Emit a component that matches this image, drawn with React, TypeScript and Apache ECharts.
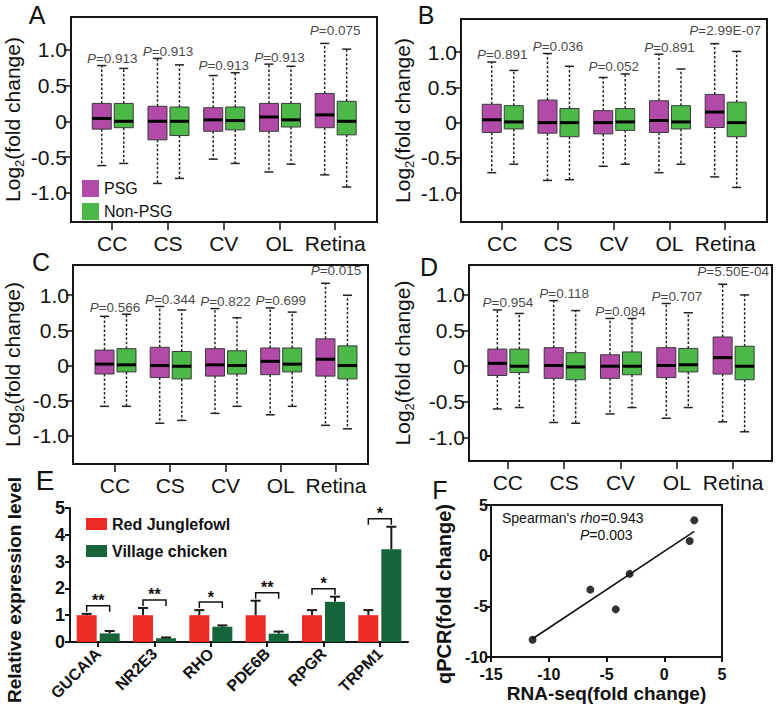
import React, { useEffect, useRef } from 'react';
import * as echarts from 'echarts';

const FONT = '"Liberation Sans", Arial, sans-serif';

// ---------- Panels A-D: box plots ----------
const tissues = ['CC', 'CS', 'CV', 'OL', 'Retina'];
// each row: [min, Q1, median, Q3, max]
const psgA = [
  [-0.62, -0.11, 0.04, 0.25, 0.78],
  [-0.87, -0.26, 0.0, 0.21, 0.88],
  [-0.53, -0.14, 0.02, 0.19, 0.64],
  [-0.71, -0.14, 0.06, 0.25, 0.8],
  [-0.75, -0.09, 0.09, 0.39, 1.09],
];
const nonA = [
  [-0.59, -0.09, 0.0, 0.25, 0.74],
  [-0.8, -0.2, 0.0, 0.2, 0.79],
  [-0.59, -0.12, 0.01, 0.2, 0.68],
  [-0.6, -0.08, 0.02, 0.25, 0.77],
  [-0.92, -0.19, 0.0, 0.28, 1.01],
];
const pA = ['0.913', '0.913', '0.913', '0.913', '0.075'];

const psgB = [
  [-0.71, -0.14, 0.04, 0.26, 0.86],
  [-0.82, -0.15, 0.0, 0.32, 0.98],
  [-0.62, -0.16, 0.0, 0.17, 0.64],
  [-0.71, -0.14, 0.03, 0.31, 0.97],
  [-0.77, -0.07, 0.15, 0.4, 1.12],
];
const nonB = [
  [-0.59, -0.09, 0.01, 0.24, 0.74],
  [-0.81, -0.2, 0.0, 0.2, 0.8],
  [-0.59, -0.11, 0.01, 0.2, 0.69],
  [-0.59, -0.09, 0.01, 0.24, 0.76],
  [-0.92, -0.2, 0.0, 0.29, 1.01],
];
const pB = ['0.891', '0.036', '0.052', '0.891', '2.99E-07'];

const psgC = [
  [-0.58, -0.12, 0.02, 0.22, 0.7],
  [-0.82, -0.17, 0.0, 0.26, 0.84],
  [-0.68, -0.15, 0.01, 0.24, 0.81],
  [-0.7, -0.13, 0.06, 0.25, 0.82],
  [-0.85, -0.15, 0.09, 0.38, 1.17],
];
const nonC = [
  [-0.58, -0.09, 0.01, 0.24, 0.73],
  [-0.78, -0.19, -0.01, 0.2, 0.79],
  [-0.58, -0.12, 0.0, 0.21, 0.68],
  [-0.58, -0.09, 0.02, 0.25, 0.76],
  [-0.9, -0.19, 0.0, 0.28, 1.0],
];
const pC = ['0.566', '0.344', '0.822', '0.699', '0.015'];

const psgD = [
  [-0.6, -0.13, 0.04, 0.24, 0.79],
  [-0.79, -0.17, 0.01, 0.26, 0.92],
  [-0.67, -0.17, 0.0, 0.16, 0.67],
  [-0.73, -0.16, 0.01, 0.26, 0.88],
  [-0.78, -0.11, 0.12, 0.41, 1.15],
];
const nonD = [
  [-0.58, -0.09, 0.0, 0.24, 0.74],
  [-0.8, -0.19, -0.01, 0.19, 0.78],
  [-0.58, -0.12, 0.0, 0.2, 0.67],
  [-0.58, -0.08, 0.02, 0.25, 0.75],
  [-0.92, -0.19, 0.0, 0.28, 1.0],
];
const pD = ['0.954', '0.118', '0.084', '0.707', '5.50E-04'];

const yTicksBox = [-1, -0.5, 0, 0.5, 1];

// ---------- Panel E: qPCR bars ----------
const genes = ['GUCAIA', 'NR2E3', 'RHO', 'PDE6B', 'RPGR', 'TRPM1'];
const rjfMean = [1, 1, 1, 1, 1, 1];
const rjfErr = [0.05, 0.27, 0.19, 0.54, 0.19, 0.19];
const vcMean = [0.32, 0.14, 0.57, 0.31, 1.5, 3.46];
const vcErr = [0.09, 0.03, 0.05, 0.08, 0.19, 0.84];
const sigStars = ['**', '**', '*', '**', '*', '*'];

// ---------- Panel F: correlation ----------
const rnaSeq = [2.6, 2.2, -3.0, -6.4, -4.2, -11.4];
const qpcr = [3.5, 1.45, -1.8, -3.35, -5.3, -8.3];
const fitX = [-11.4, 2.6];
const fitY = [-8.2, 2.4];

const PSG_COLOR = '#b24ba7';
const NON_COLOR = '#4cb848';
const RED = '#ee2a24';
const DKGREEN = '#16653a';
const INK = '#151515';

const boxPanels = [
  { psg: psgA, non: nonA, p: pA, left: 71, top: 17, width: 306, height: 205, xr: [0.26, 5.75], yr: [-1.41, 1.46], nameGap: 47 },
  { psg: psgB, non: nonB, p: pB, left: 461, top: 19, width: 306, height: 203, xr: [0.26, 5.75], yr: [-1.41, 1.47], nameGap: 47 },
  { psg: psgC, non: nonC, p: pC, left: 73, top: 265, width: 295, height: 199, xr: [0.24, 5.58], yr: [-1.4, 1.43], nameGap: 49 },
  { psg: psgD, non: nonD, p: pD, left: 469, top: 265, width: 303, height: 196, xr: [0.31, 5.69], yr: [-1.33, 1.42], nameGap: 55 },
];

function boxRender(offset: number, fill: string) {
  return (params: any, api: any) => {
    const x = api.value(0);
    const pts = [1, 2, 3, 4, 5].map((i) => api.coord([x, api.value(i)]));
    const [pMin, pQ1, pMed, pQ3, pMax] = pts;
    const cx = pMin[0] + offset;
    const hw = 9.5;
    const cap = 4.5;
    const dash = { stroke: '#222', lineWidth: 1.5, lineDash: [2.5, 2] };
    const solid = { stroke: '#222', lineWidth: 1.5 };
    return {
      type: 'group',
      children: [
        { type: 'line', shape: { x1: cx, y1: pQ3[1], x2: cx, y2: pMax[1] }, style: dash },
        { type: 'line', shape: { x1: cx, y1: pQ1[1], x2: cx, y2: pMin[1] }, style: dash },
        { type: 'line', shape: { x1: cx - cap, y1: pMax[1], x2: cx + cap, y2: pMax[1] }, style: solid },
        { type: 'line', shape: { x1: cx - cap, y1: pMin[1], x2: cx + cap, y2: pMin[1] }, style: solid },
        {
          type: 'rect',
          shape: { x: cx - hw, y: pQ3[1], width: hw * 2, height: pQ1[1] - pQ3[1] },
          style: { fill, stroke: '#3a3a3a', lineWidth: 1 },
        },
        { type: 'line', shape: { x1: cx - hw, y1: pMed[1], x2: cx + hw, y2: pMed[1] }, style: { stroke: '#000', lineWidth: 3 } },
      ],
    };
  };
}

function errRender(offset: number) {
  return (params: any, api: any) => {
    const c = api.value(0);
    const v = api.value(1);
    const e = api.value(2);
    const p0 = api.coord([c, v]);
    const p1 = api.coord([c, v + e]);
    const cx = p0[0] + offset;
    const st = { stroke: '#1a1a1a', lineWidth: 2 };
    return {
      type: 'group',
      children: [
        { type: 'line', shape: { x1: cx, y1: p0[1], x2: cx, y2: p1[1] }, style: st },
        { type: 'line', shape: { x1: cx - 5, y1: p1[1], x2: cx + 5, y2: p1[1] }, style: st },
      ],
    };
  };
}

function bracketRender(params: any, api: any) {
  const c = api.value(0);
  const y = api.value(1);
  const p = api.coord([c, y]);
  const l = p[0] - 11.5;
  const r = p[0] + 11.5;
  const stars = sigStars[params.dataIndex];
  return {
    type: 'group',
    children: [
      {
        type: 'polyline',
        shape: { points: [[l, p[1] + 6], [l, p[1]], [r, p[1]], [r, p[1] + 6]] },
        style: { stroke: '#111', lineWidth: 1.5, fill: 'none' },
      },
      {
        type: 'text',
        x: p[0],
        y: p[1] + 3,
        style: {
          text: stars,
          fill: '#111',
          fontSize: 16,
          fontWeight: 'bold',
          fontFamily: FONT,
          align: 'center',
          textAlign: 'center',
          verticalAlign: 'bottom',
          textVerticalAlign: 'bottom',
        },
      },
    ],
  };
}

function buildOption() {
  const grid: any[] = [];
  const xAxis: any[] = [];
  const yAxis: any[] = [];
  const series: any[] = [];

  boxPanels.forEach((bp, k) => {
    grid.push({
      left: bp.left, top: bp.top, width: bp.width, height: bp.height,
      show: true, borderColor: INK, borderWidth: 2, backgroundColor: 'transparent',
    });
    xAxis.push({
      type: 'value', gridIndex: k, min: bp.xr[0], max: bp.xr[1],
      axisLine: { show: true, onZero: false, lineStyle: { color: INK, width: 2 } },
      axisTick: { show: true, length: 8, customValues: [1, 2, 3, 4, 5], lineStyle: { color: INK, width: 1.5 } },
      axisLabel: {
        customValues: [1, 2, 3, 4, 5],
        formatter: (v: number) => tissues[Math.round(v) - 1] || '',
        fontSize: 21, color: '#111', fontFamily: FONT, margin: 11,
      },
      splitLine: { show: false },
    });
    yAxis.push({
      type: 'value', gridIndex: k, min: bp.yr[0], max: bp.yr[1],
      axisLine: { show: true, onZero: false, lineStyle: { color: INK, width: 2 } },
      axisTick: { show: true, length: 7, customValues: yTicksBox, lineStyle: { color: INK, width: 1.5 } },
      axisLabel: {
        customValues: yTicksBox,
        formatter: (v: number) => (Math.abs(v) < 1e-9 ? '0' : v.toFixed(1)),
        fontSize: 21, color: '#111', fontFamily: FONT, margin: 4,
      },
      splitLine: { show: false },
      name: '{n|Log}{s|2}{n|(fold change)}',
      nameLocation: 'middle',
      nameGap: bp.nameGap,
      nameTextStyle: {
        fontFamily: FONT,
        rich: {
          n: { fontSize: 21, color: '#111', fontFamily: FONT, lineHeight: 24 },
          s: { fontSize: 13, color: '#111', fontFamily: FONT, lineHeight: 13, verticalAlign: 'bottom', padding: [0, 0, -2, 0] },
        },
      },
    });
    series.push({
      type: 'custom', name: 'PSG', xAxisIndex: k, yAxisIndex: k,
      itemStyle: { color: PSG_COLOR },
      renderItem: boxRender(-10.5, PSG_COLOR),
      encode: { x: 0, y: [1, 2, 3, 4, 5] },
      data: bp.psg.map((r, i) => [i + 1, ...r]),
      clip: false, silent: true,
    });
    series.push({
      type: 'custom', name: 'Non-PSG', xAxisIndex: k, yAxisIndex: k,
      itemStyle: { color: NON_COLOR },
      renderItem: boxRender(11.5, NON_COLOR),
      encode: { x: 0, y: [1, 2, 3, 4, 5] },
      data: bp.non.map((r, i) => [i + 1, ...r]),
      clip: false, silent: true,
    });
    series.push({
      type: 'scatter', xAxisIndex: k, yAxisIndex: k, symbolSize: 0, silent: true,
      data: bp.p.map((p, i) => ({
        value: [i + 1, Math.max(bp.psg[i][4], bp.non[i][4]), p],
        label: { distance: i === 4 ? 8 : 2 },
      })),
      label: {
        show: true, position: 'top', distance: 2,
        lineHeight: 10,
        formatter: (prm: any) => `{i|P}{n|=${prm.value[2]}}`,
        rich: {
          i: { fontStyle: 'italic', fontSize: 13.5, color: '#111', fontFamily: FONT, lineHeight: 10 },
          n: { fontSize: 13.5, color: '#111', fontFamily: FONT, lineHeight: 10 },
        },
      },
    });
  });

  // Panel E
  const eIdx = 4;
  grid.push({ left: 70, top: 508, width: 338, height: 134 });
  xAxis.push({
    type: 'category', gridIndex: eIdx, data: genes,
    axisLine: { show: true, lineStyle: { color: INK, width: 2 } },
    axisTick: { show: true, alignWithLabel: true, length: 5, lineStyle: { color: INK, width: 2 } },
    axisLabel: { rotate: 45, interval: 0, fontSize: 16, fontWeight: 'bold', color: '#111', fontFamily: FONT, margin: 9 },
  });
  yAxis.push({
    type: 'value', gridIndex: eIdx, min: 0, max: 5, interval: 1,
    axisLine: { show: true, lineStyle: { color: INK, width: 2 } },
    axisTick: { show: true, length: 5, lineStyle: { color: INK, width: 2 } },
    axisLabel: { fontSize: 18, fontWeight: 'bold', color: '#111', fontFamily: FONT, margin: 5 },
    splitLine: { show: false },
  });
  series.push({
    type: 'bar', name: 'Red Junglefowl', xAxisIndex: eIdx, yAxisIndex: eIdx,
    data: rjfMean, barWidth: 20, barGap: '15%', itemStyle: { color: RED }, silent: true,
  });
  series.push({
    type: 'bar', name: 'Village chicken', xAxisIndex: eIdx, yAxisIndex: eIdx,
    data: vcMean, barWidth: 20, barGap: '15%', itemStyle: { color: DKGREEN }, silent: true,
  });
  series.push({
    type: 'custom', xAxisIndex: eIdx, yAxisIndex: eIdx, renderItem: errRender(-11.5),
    data: rjfMean.map((v, i) => [i, v, rjfErr[i]]), encode: { x: 0, y: 1 }, z: 3, clip: false, silent: true,
  });
  series.push({
    type: 'custom', xAxisIndex: eIdx, yAxisIndex: eIdx, renderItem: errRender(11.5),
    data: vcMean.map((v, i) => [i, v, vcErr[i]]), encode: { x: 0, y: 1 }, z: 3, clip: false, silent: true,
  });
  series.push({
    type: 'custom', xAxisIndex: eIdx, yAxisIndex: eIdx, renderItem: bracketRender,
    data: genes.map((g, i) => [i, Math.max(rjfMean[i] + rjfErr[i], vcMean[i] + vcErr[i]) + 0.3]),
    encode: { x: 0, y: 1 }, z: 3, clip: false, silent: true,
  });

  // Panel F
  const fIdx = 5;
  grid.push({ left: 491, top: 505, width: 231, height: 152, show: true, borderColor: INK, borderWidth: 2, backgroundColor: 'transparent' });
  xAxis.push({
    type: 'value', gridIndex: fIdx, min: -15, max: 5, interval: 5,
    axisLine: { show: true, onZero: false, lineStyle: { color: INK, width: 2 } },
    axisTick: { show: true, length: 5, lineStyle: { color: INK, width: 2 } },
    axisLabel: { fontSize: 16, fontWeight: 'bold', color: '#111', fontFamily: FONT, margin: 9 },
    splitLine: { show: false },
    name: 'RNA-seq(fold change)', nameLocation: 'middle', nameGap: 27,
    nameTextStyle: { fontSize: 19, fontWeight: 'bold', color: '#111', fontFamily: FONT },
  });
  yAxis.push({
    type: 'value', gridIndex: fIdx, min: -10, max: 5, interval: 5,
    axisLine: { show: true, onZero: false, lineStyle: { color: INK, width: 2 } },
    axisTick: { show: true, length: 5, lineStyle: { color: INK, width: 2 } },
    axisLabel: { fontSize: 16, fontWeight: 'bold', color: '#111', fontFamily: FONT, margin: 3 },
    splitLine: { show: false },
  });
  series.push({
    type: 'line', xAxisIndex: fIdx, yAxisIndex: fIdx, symbol: 'none', silent: true,
    data: fitX.map((x, i) => [x, fitY[i]]), lineStyle: { color: '#111', width: 1.6 },
  });
  series.push({
    type: 'scatter', xAxisIndex: fIdx, yAxisIndex: fIdx, symbolSize: 8, silent: true,
    data: rnaSeq.map((x, i) => [x, qpcr[i]]), itemStyle: { color: '#000' },
  });

  const letter = (t: string, x: number, y: number, size = 25) => ({
    type: 'text', x, y,
    style: { text: t, fontSize: size, fontFamily: FONT, fill: '#111', align: 'center', verticalAlign: 'middle' },
  });
  const rotName = (t: string, x: number, y: number, size: number) => ({
    type: 'text', x, y, rotation: Math.PI / 2,
    style: { text: t, fontSize: size, fontWeight: 'bold', fontFamily: FONT, fill: '#111', align: 'center', verticalAlign: 'middle' },
  });

  return {
    animation: false,
    backgroundColor: '#fff',
    textStyle: { fontFamily: FONT },
    grid, xAxis, yAxis, series,
    legend: [
      {
        data: ['PSG', 'Non-PSG'], left: 77, top: 175, orient: 'vertical', icon: 'rect',
        itemWidth: 17, itemHeight: 17, itemGap: 6, selectedMode: false,
        textStyle: { fontSize: 16, color: '#111', fontFamily: FONT },
      },
      {
        data: ['Red Junglefowl', 'Village chicken'], left: 81, top: 511, orient: 'vertical', icon: 'rect',
        itemWidth: 21, itemHeight: 12, itemGap: 11, selectedMode: false,
        textStyle: { fontSize: 16, fontWeight: 'bold', color: '#111', fontFamily: FONT },
      },
    ],
    graphic: [
      letter('A', 37, 15),
      letter('B', 426, 15),
      letter('C', 41, 262),
      letter('D', 429, 267),
      letter('E', 45, 480, 28),
      letter('F', 440, 490),
      rotName('Relative expression level', 14, 590, 19),
      rotName('qPCR(fold change)', 444, 594, 20),
      {
        type: 'text', x: 502, y: 518,
        style: {
          text: "{n|Spearman's }{i|rho}{n|=0.943}",
          verticalAlign: 'middle',
          rich: {
            n: { fontSize: 14, fontFamily: FONT, fill: '#111', color: '#111' },
            i: { fontSize: 14, fontFamily: FONT, fontStyle: 'italic', fill: '#111', color: '#111' },
          },
        },
      },
      {
        type: 'text', x: 580, y: 535,
        style: {
          text: '{i|P}{n|=0.003}',
          verticalAlign: 'middle',
          rich: {
            n: { fontSize: 14, fontFamily: FONT, fill: '#111', color: '#111' },
            i: { fontSize: 14, fontFamily: FONT, fontStyle: 'italic', fill: '#111', color: '#111' },
          },
        },
      },
    ],
  };
}

export default function App() {
  const ref = useRef<HTMLDivElement>(null);
  useEffect(() => {
    document.body.style.margin = '0';
    const chart = echarts.init(ref.current as HTMLDivElement, null, { renderer: 'svg' });
    chart.setOption(buildOption() as any);
    return () => chart.dispose();
  }, []);
  return <div ref={ref} style={{ width: 777, height: 708 }} />;
}
